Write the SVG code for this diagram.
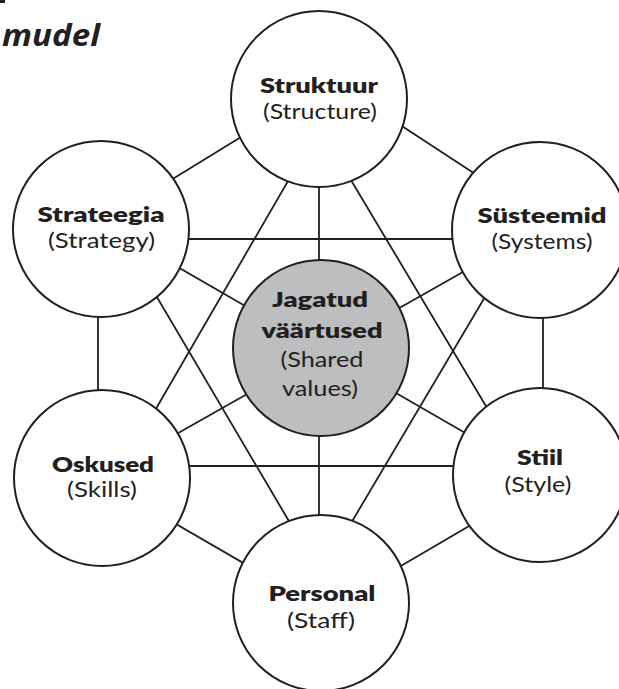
<svg xmlns="http://www.w3.org/2000/svg" width="619" height="689" viewBox="0 0 619 689">
<style>
.bg{fill:#ffffff}
.ln{stroke:#231f20;stroke-width:1.8;fill:none}
.nd{fill:#ffffff;stroke:#231f20;stroke-width:2}
.ctr{fill:#bcbec0;stroke:#231f20;stroke-width:2}
.b{font-family:Lato,"Open Sans","Liberation Sans",sans-serif;font-weight:800;font-size:21px;fill:#231f20;text-anchor:middle}
.r{font-family:Lato,"Open Sans","Liberation Sans",sans-serif;font-weight:400;font-size:21px;fill:#231f20;text-anchor:middle}
.t{font-family:"Open Sans","Liberation Sans",sans-serif;font-weight:700;font-style:italic;font-size:31px;fill:#231f20}
</style>
<rect class="bg" x="0" y="0" width="619" height="689"/>
<rect x="0" y="0" width="5" height="3" fill="#231f20"/>
<text class="t" x="2" y="46" textLength="98" lengthAdjust="spacingAndGlyphs">mudel</text>
<g id="connectors">
<line class="ln" x1="254" y1="129" x2="158" y2="188"/>
<line class="ln" x1="385" y1="115" x2="492" y2="185"/>
<line class="ln" x1="319" y1="150" x2="319" y2="560"/>
<line class="ln" x1="306" y1="150" x2="139" y2="438"/>
<line class="ln" x1="333" y1="150" x2="505" y2="438"/>
<line class="ln" x1="150" y1="239" x2="490" y2="239"/>
<line class="ln" x1="98" y1="280" x2="98" y2="430"/>
<line class="ln" x1="150" y1="251" x2="493" y2="449"/>
<line class="ln" x1="493" y1="255" x2="150" y2="449"/>
<line class="ln" x1="131" y1="253" x2="313" y2="562"/>
<line class="ln" x1="511" y1="253" x2="328" y2="562"/>
<line class="ln" x1="543" y1="280" x2="543" y2="430"/>
<line class="ln" x1="150" y1="466" x2="490" y2="466"/>
<line class="ln" x1="145" y1="506" x2="276" y2="582"/>
<line class="ln" x1="500" y1="508" x2="370" y2="584"/>
</g>
<g id="struktuur">
<circle class="nd" cx="319" cy="99" r="88"/>
<text class="b" x="319" y="93" textLength="118" lengthAdjust="spacingAndGlyphs">Struktuur</text>
<text class="r" x="320" y="119" textLength="114" lengthAdjust="spacingAndGlyphs">(Structure)</text>
</g>
<g id="strateegia">
<circle class="nd" cx="101" cy="229" r="88"/>
<text class="b" x="101" y="222" textLength="127" lengthAdjust="spacingAndGlyphs">Strateegia</text>
<text class="r" x="101.5" y="248" textLength="107" lengthAdjust="spacingAndGlyphs">(Strategy)</text>
</g>
<g id="systeemid">
<circle class="nd" cx="540" cy="230" r="88"/>
<text class="b" x="542" y="223" textLength="129" lengthAdjust="spacingAndGlyphs">Süsteemid</text>
<text class="r" x="542" y="249" textLength="101" lengthAdjust="spacingAndGlyphs">(Systems)</text>
</g>
<g id="jagatud">
<circle class="ctr" cx="321" cy="348" r="88"/>
<text class="b" x="320" y="307" textLength="96" lengthAdjust="spacingAndGlyphs">Jagatud</text>
<text class="b" x="322" y="338" textLength="121" lengthAdjust="spacingAndGlyphs">väärtused</text>
<text class="r" x="322" y="367" textLength="83" lengthAdjust="spacingAndGlyphs">(Shared</text>
<text class="r" x="320" y="396" textLength="76" lengthAdjust="spacingAndGlyphs">values)</text>
</g>
<g id="oskused">
<circle class="nd" cx="102" cy="478" r="88"/>
<text class="b" x="103" y="472" textLength="102" lengthAdjust="spacingAndGlyphs">Oskused</text>
<text class="r" x="102" y="497" textLength="70" lengthAdjust="spacingAndGlyphs">(Skills)</text>
</g>
<g id="stiil">
<circle class="nd" cx="540" cy="475" r="87"/>
<text class="b" x="540" y="465" textLength="46" lengthAdjust="spacingAndGlyphs">Stiil</text>
<text class="r" x="538" y="492" textLength="67" lengthAdjust="spacingAndGlyphs">(Style)</text>
</g>
<g id="personal">
<circle class="nd" cx="321" cy="603" r="88"/>
<text class="b" x="322" y="601" textLength="107" lengthAdjust="spacingAndGlyphs">Personal</text>
<text class="r" x="321" y="628" textLength="68" lengthAdjust="spacingAndGlyphs">(Staff)</text>
</g>
</svg>
